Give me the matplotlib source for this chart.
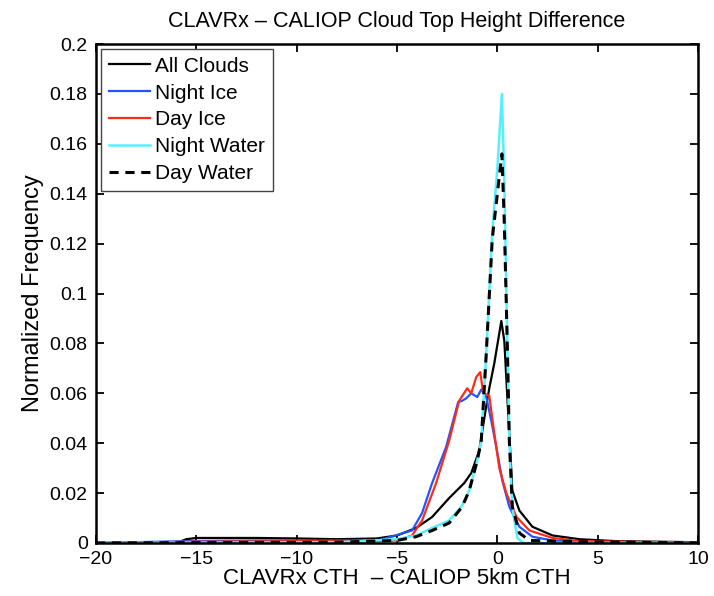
import numpy as np
import matplotlib
matplotlib.use('Agg')
import matplotlib.pyplot as plt

plt.rcParams['font.family'] = ['Liberation Sans', 'DejaVu Sans']

# CTH difference (km) and normalized frequency
all_x = [-20, -16, -15.5, -15, -12, -10, -8, -6, -5, -4.05, -3.25, -2.4, -1.65, -1.3,
         -0.9, -0.55, -0.4, -0.15, 0.2, 0.35, 0.75, 1.1, 1.75, 2.75, 4.1, 6, 10]
all_y = [0, 0, 0.0015, 0.002, 0.002, 0.0018, 0.0015, 0.0018, 0.003, 0.006, 0.0104, 0.018,
         0.024, 0.028, 0.037, 0.055, 0.062, 0.072, 0.089, 0.081, 0.021, 0.013,
         0.0065, 0.003, 0.0015, 0.0007, 0.0003]

nice_x = [-20, -15, -12, -8, -6, -5.9, -4.25, -3.75, -3.25, -2.55, -1.95, -1.75, -1.55,
          -1.3, -1.0, -0.8, -0.55, -0.3, -0.05, 0.25, 0.6, 1.1, 1.75, 2.75, 4, 10]
nice_y = [0, 0.0008, 0.001, 0.001, 0.001, 0.001, 0.005, 0.012, 0.024, 0.0385, 0.0565,
          0.057, 0.058, 0.060, 0.0585, 0.0615, 0.0585, 0.049, 0.0385, 0.025, 0.0145,
          0.0065, 0.0025, 0.001, 0.0003, 0]

dice_x = [-20, -15, -10, -6, -5, -4.25, -3.75, -3.05, -2.4, -1.9, -1.5, -1.3, -1.05, -0.85,
          -0.7, -0.4, -0.15, 0.1, 0.45, 0.95, 1.6, 2.75, 4, 10]
dice_y = [0, 0.0005, 0.0007, 0.0007, 0.001, 0.003, 0.009, 0.024, 0.041, 0.057, 0.062,
          0.060, 0.0665, 0.0685, 0.060, 0.059, 0.044, 0.030, 0.020, 0.0105, 0.005,
          0.002, 0.0008, 0]

nwat_x = [-20, -8, -5, -4.05, -3.25, -2.4, -1.75, -1.4, -1.0, -0.8, -0.55, -0.25, 0.0,
          0.23, 0.35, 0.5, 0.6, 0.75, 1.0, 1.3, 10]
nwat_y = [0, 0.0003, 0.0015, 0.003, 0.006, 0.009, 0.0150, 0.021, 0.033, 0.041, 0.076,
          0.125, 0.150, 0.180, 0.145, 0.079, 0.041, 0.014, 0.002, 0, 0]

dwat_x = [-20, -8, -5, -4.05, -3.25, -2.4, -1.75, -1.4, -1.0, -0.8, -0.55, -0.25, 0.1,
          0.23, 0.35, 0.5, 0.6, 0.75, 1.1, 1.6, 4, 10]
dwat_y = [0, 0.0003, 0.001, 0.0025, 0.005, 0.008, 0.0145, 0.021, 0.033, 0.041, 0.076,
          0.122, 0.147, 0.156, 0.128, 0.079, 0.041, 0.0145, 0.004, 0.001, 0.0005, 0]

fig = plt.figure(figsize=(7.14, 5.96), dpi=100)
ax = fig.add_axes([0.1345, 0.089, 0.843, 0.837])

ax.plot(all_x, all_y, color='black', lw=1.6, label='All Clouds')
ax.plot(nice_x, nice_y, color='#2255ff', lw=1.6, label='Night Ice')
ax.plot(dice_x, dice_y, color='#ff2a1a', lw=1.6, label='Day Ice')
ax.plot(nwat_x, nwat_y, color='#55f0ff', lw=1.8, label='Night Water')
ax.plot(dwat_x, dwat_y, color='black', lw=2.2, ls=(0, (3, 2.2)), label='Day Water')

ax.set_xlim(-20, 10)
ax.set_ylim(0, 0.2)
ax.set_xticks(np.arange(-20, 11, 5))
ax.set_xticklabels(['\u221220', '\u221215', '\u221210', '\u22125', '0', '5', '10'])
ax.set_yticks(np.arange(0, 0.201, 0.02))
ax.set_yticklabels(['0', '0.02', '0.04', '0.06', '0.08', '0.1', '0.12', '0.14',
                    '0.16', '0.18', '0.2'])
ax.tick_params(direction='in', top=True, right=True, length=6, width=1.3,
               labelsize=14, pad=6)
for s in ax.spines.values():
    s.set_linewidth(1.8)

ax.set_title('CLAVRx \u2013 CALIOP Cloud Top Height Difference', fontsize=15.5, pad=12)
ax.set_xlabel('CLAVRx CTH  \u2013 CALIOP 5km CTH', fontsize=16, labelpad=0)
ax.set_ylabel('Normalized Frequency', fontsize=17, labelpad=4)

leg = ax.legend(loc='upper left', fontsize=15, fancybox=False, framealpha=1,
                edgecolor='#444444', handlelength=2.0, handletextpad=0.25,
                borderpad=0.35, labelspacing=0.38, borderaxespad=0.25)
leg.get_frame().set_linewidth(1.0)

fig.savefig('out.png', dpi=100)
